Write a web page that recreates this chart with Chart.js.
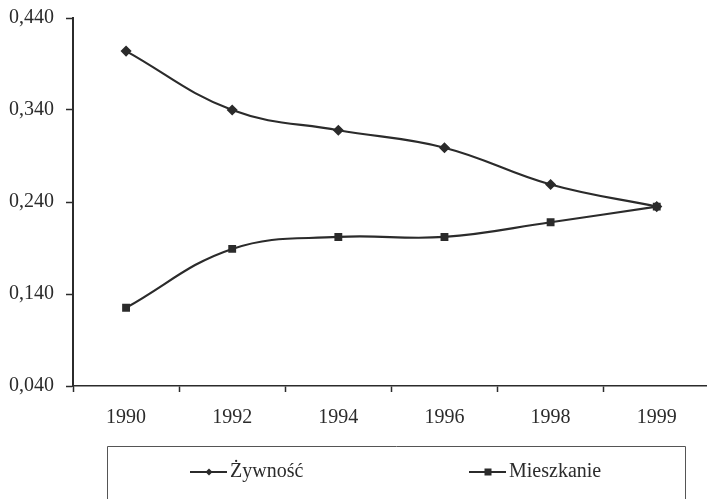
<!DOCTYPE html>
<html>
<head>
<meta charset="utf-8">
<script src="https://cdn.jsdelivr.net/npm/chart.js@4"></script>
<style>
html,body{margin:0;padding:0;background:#fff;overflow:hidden;}
#wrap{width:707px;height:499px;position:relative;overflow:hidden;}
</style>
</head>
<body>
<div id="wrap"><canvas id="c" width="716" height="499"></canvas></div>
<script>
const categories = ['1990', '1992', '1994', '1996', '1998', '1999'];
const zywnosc = [0.404, 0.340, 0.318, 0.299, 0.259, 0.235];
const mieszkanie = [0.125, 0.189, 0.202, 0.202, 0.218, 0.235];
const yTicks = [0.04, 0.14, 0.24, 0.34, 0.44];
const seriesNames = ['Żywność', 'Mieszkanie'];

const INK = '#2b2b2b';
const FONT = 'Liberation Serif';

const boxLegend = {
  id: 'boxLegend',
  afterDraw(chart) {
    const ctx = chart.ctx;
    const left = 107, right = 685, top = 446, bottom = chart.height + 2;
    ctx.save();
    ctx.strokeStyle = '#555';
    ctx.lineWidth = 1;
    ctx.beginPath();
    ctx.moveTo(left + 0.5, bottom);
    ctx.lineTo(left + 0.5, top + 0.5);
    ctx.lineTo(right + 0.5, top + 0.5);
    ctx.lineTo(right + 0.5, bottom);
    ctx.stroke();
    const y = 472;
    const starts = [190, 469];
    chart.data.datasets.forEach((ds, i) => {
      const x0 = starts[i];
      ctx.strokeStyle = ds.borderColor;
      ctx.lineWidth = 2;
      ctx.beginPath();
      ctx.moveTo(x0, y);
      ctx.lineTo(x0 + 37, y);
      ctx.stroke();
      ctx.fillStyle = ds.pointBackgroundColor;
      const cx = x0 + 19;
      if (ds.pointStyle === 'rectRot') {
        ctx.beginPath();
        ctx.moveTo(cx, y - 3.5); ctx.lineTo(cx + 3.5, y); ctx.lineTo(cx, y + 3.5); ctx.lineTo(cx - 3.5, y);
        ctx.closePath(); ctx.fill();
      } else {
        ctx.fillRect(cx - 3.5, y - 3.5, 7, 7);
      }
      ctx.fillStyle = INK;
      ctx.font = '20px "' + FONT + '"';
      ctx.textBaseline = 'middle';
      ctx.textAlign = 'left';
      ctx.fillText(ds.label, x0 + 40, y);
    });
    ctx.restore();
  }
};

new Chart(document.getElementById('c'), {
  type: 'line',
  data: {
    labels: categories,
    datasets: [
      { label: seriesNames[0], data: zywnosc, borderColor: INK, backgroundColor: INK, pointBackgroundColor: INK, pointBorderColor: INK, pointStyle: 'rectRot', pointRadius: 4, borderWidth: 2.2, tension: 0.4 },
      { label: seriesNames[1], data: mieszkanie, borderColor: INK, backgroundColor: INK, pointBackgroundColor: INK, pointBorderColor: INK, pointStyle: 'rect', pointRadius: 4, borderWidth: 2.2, tension: 0.4 }
    ]
  },
  options: {
    responsive: false,
    animation: false,
    layout: { padding: { top: 18, right: 0, bottom: 0, left: 1 } },
    plugins: { legend: { display: false }, tooltip: { enabled: false } },
    scales: {
      x: {
        offset: true,
        grid: { offset: true, drawOnChartArea: false, tickLength: 6, color: INK, tickWidth: 1.5 },
        border: { display: true, color: INK, width: 1.5 },
        ticks: { color: INK, padding: 14, font: { family: FONT, size: 20 }, maxRotation: 0 },
        afterFit(s) { s.height = 113; s.paddingLeft = 0; s.paddingRight = 0; }
      },
      y: {
        min: 0.04, max: 0.44,
        afterBuildTicks(s) { s.ticks = yTicks.map(v => ({ value: v })); },
        grid: { drawOnChartArea: false, tickLength: 7, color: INK, tickWidth: 1.5 },
        border: { display: true, color: INK, width: 2 },
        ticks: { color: INK, padding: 12, font: { family: FONT, size: 20 }, callback: v => Number(v).toFixed(3).replace('.', ',') },
        afterFit(s) { s.width = 72; s.paddingTop = 0; s.paddingBottom = 0; }
      }
    }
  },
  plugins: [boxLegend]
});
</script>
</body>
</html>
